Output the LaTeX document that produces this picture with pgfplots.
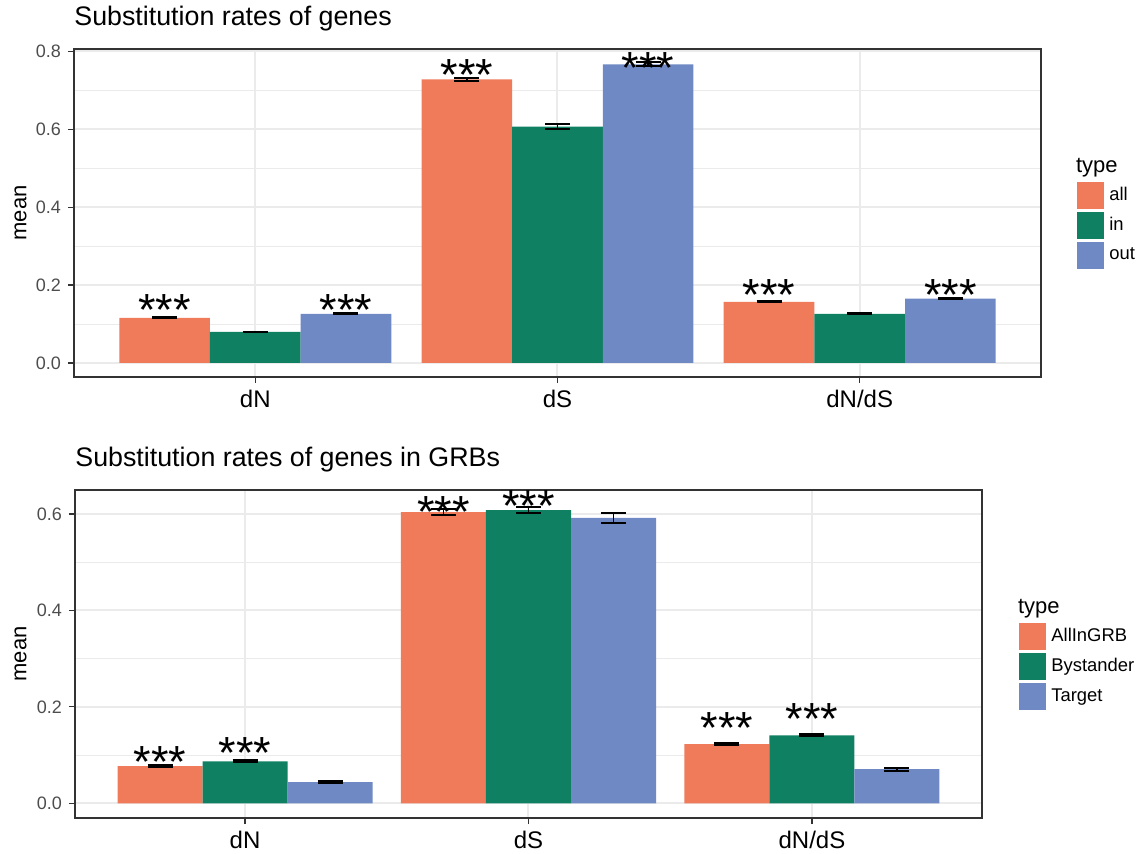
\documentclass[border=0pt]{standalone}
\usepackage{pgfplots}
\usepackage{pgfplotstable}
\usepackage{fontspec}
\setmainfont{Liberation Sans}
\pgfplotsset{compat=1.18}

\definecolor{cAll}{RGB}{239,123,91}
\definecolor{cIn}{RGB}{16,128,98}
\definecolor{cOut}{RGB}{111,137,197}
\definecolor{frameC}{HTML}{333333}
\definecolor{tickC}{HTML}{4D4D4D}
\definecolor{gridC}{HTML}{EBEBEB}

% mean and standard error per rate and gene type
\pgfplotstableread{
x  all    allerr  in     inerr   out    outerr
1  0.1157 0.0012  0.0797 0.0010  0.1260 0.0011
2  0.7280 0.0040  0.6070 0.0055  0.7665 0.0050
3  0.1570 0.0012  0.1260 0.0012  0.1650 0.0012
}\genesdata

\pgfplotstableread{
x  all    allerr  bys    byserr  tgt    tgterr
1  0.0770 0.0015  0.0870 0.0020  0.0440 0.0020
2  0.6040 0.0060  0.6080 0.0070  0.5920 0.0110
3  0.1225 0.0020  0.1410 0.0020  0.0706 0.0030
}\grbdata

\newcommand{\stars}[2]{\node[font=\fontsize{22.5}{22.5}\selectfont, anchor=base, inner sep=0pt, yshift=-13.2pt] at (axis cs:#1,#2) {***};}

\pgfplotsset{
  rates/.style={
    scale only axis,
    anchor=south west,
    height=164pt,
    ybar=0pt, bar width=0.3,
    xmin=0.4, xmax=3.6,
    xtick={1,2,3}, xticklabels={dN,dS,dN/dS},
    xtick pos=bottom, ytick pos=left,
    tick align=outside,
    major tick length=3pt, minor tick length=0pt,
    every tick/.style={draw=frameC, line width=0.6pt},
    axis line style={draw=frameC, line width=0.65pt},
    xmajorgrids, ymajorgrids, yminorgrids,
    major grid style={draw=gridC, line width=1pt},
    minor grid style={draw=gridC, line width=0.5pt},
    x tick label style={font=\fontsize{12}{12}\selectfont, text=black},
    y tick label style={font=\fontsize{9}{9}\selectfont, text=tickC},
    yticklabel style={/pgf/number format/.cd, fixed, fixed zerofill, precision=1, assume math mode=true},
    ylabel={mean},
    ylabel style={font=\fontsize{11}{11}\selectfont, anchor=center, rotate=0},
    error bars/y dir=both,
    error bars/y explicit,
    error bars/error mark=|,
    error bars/error bar style={draw=black, line width=0.9pt},
    error bars/error mark options={draw=black, line width=1pt, mark size=6.25pt},
    clip=false,
    legend style={draw=none, fill=none, inner sep=0pt, row sep=1.5pt,
      column sep=2.5pt, anchor=north west,
      font=\fontsize{9.2}{9.2}\selectfont,
      nodes={inner sep=0pt, anchor=west}},
    legend cell align=left,
  },
  key/.style={legend image code/.code={\fill[#1] (0pt,-6.75pt) rectangle (13.5pt,6.75pt);}},
}

\begin{document}
\begin{tikzpicture}
\useasboundingbox (0,0) rectangle (571pt,426.5pt);

% upper panel: all genes
\begin{axis}[rates,
  at={(37pt,238pt)}, width=483.5pt,
  ymin=-0.036, ymax=0.806,
  ytick={0,0.2,0.4,0.6,0.8}, minor ytick={0.1,0.3,0.5,0.7},
  ylabel style={at={(axis description cs:-0.0553,0.5)}},
  legend style={at={(axis description cs:1.0372,0.596)}},
]
\addplot[fill=cAll, draw=none, bar shift=-0.3, key=cAll] table[x=x, y=all, y error=allerr] {\genesdata};
\addplot[fill=cIn, draw=none, bar shift=0, key=cIn] table[x=x, y=in, y error=inerr] {\genesdata};
\addplot[fill=cOut, draw=none, bar shift=0.3, key=cOut] table[x=x, y=out, y error=outerr] {\genesdata};
\legend{all,in,out}
\stars{0.7}{0.164}
\stars{1.3}{0.164}
\stars{1.7}{0.767}
\stars{2.3}{0.786}
\stars{2.7}{0.203}
\stars{3.3}{0.203}
\node[anchor=base west, inner sep=0pt, font=\fontsize{13.4}{13.4}\selectfont, yshift=11.5pt] at (axis description cs:0,1) {Substitution rates of genes};
\node[anchor=base west, inner sep=0pt, font=\fontsize{11}{11}\selectfont] at (axis description cs:1.0359,0.622) {type};
\end{axis}

% lower panel: genes in GRBs
\begin{axis}[rates,
  at={(37.5pt,17.5pt)}, width=453.5pt,
  ymin=-0.0305, ymax=0.6497,
  ytick={0,0.2,0.4,0.6}, minor ytick={0.1,0.3,0.5},
  ylabel style={at={(axis description cs:-0.0601,0.5)}},
  legend style={at={(axis description cs:1.0408,0.596)}},
]
\addplot[fill=cAll, draw=none, bar shift=-0.3, key=cAll] table[x=x, y=all, y error=allerr] {\grbdata};
\addplot[fill=cIn, draw=none, bar shift=0, key=cIn] table[x=x, y=bys, y error=byserr] {\grbdata};
\addplot[fill=cOut, draw=none, bar shift=0.3, key=cOut] table[x=x, y=tgt, y error=tgterr] {\grbdata};
\legend{AllInGRB,Bystander,Target}
\stars{0.7}{0.1086}
\stars{1.0}{0.127}
\stars{1.7}{0.6276}
\stars{2.0}{0.639}
\stars{2.7}{0.178}
\stars{3.0}{0.1966}
\node[anchor=base west, inner sep=0pt, font=\fontsize{13.4}{13.4}\selectfont, yshift=11.65pt] at (axis description cs:0,1) {Substitution rates of genes in GRBs};
\node[anchor=base west, inner sep=0pt, font=\fontsize{11}{11}\selectfont] at (axis description cs:1.0394,0.625) {type};
\end{axis}
\end{tikzpicture}
\end{document}
